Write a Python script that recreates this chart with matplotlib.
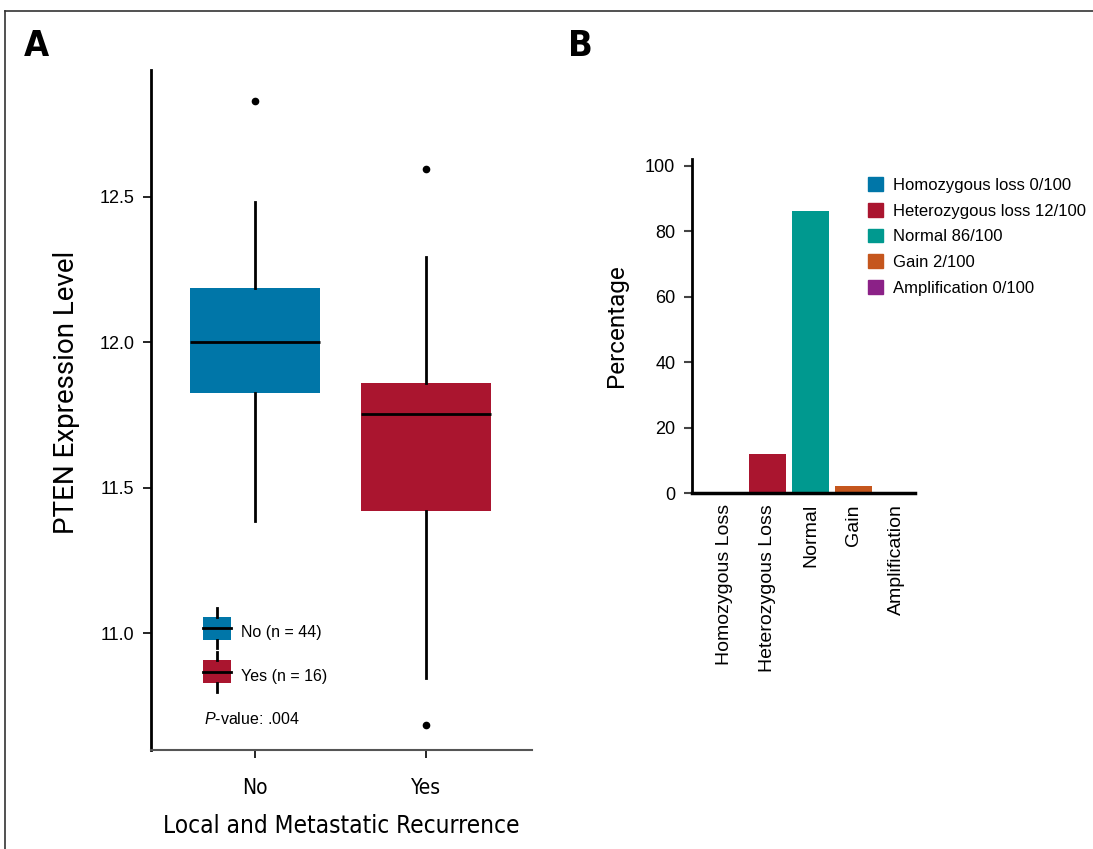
import matplotlib
matplotlib.use("Agg")
import matplotlib.pyplot as plt
from matplotlib.lines import Line2D
from matplotlib.patches import Rectangle
from matplotlib.legend_handler import HandlerBase

plt.rcParams['font.family'] = ['Liberation Sans', 'DejaVu Sans']
plt.rcParams['mathtext.fontset'] = 'custom'
plt.rcParams['mathtext.it'] = 'Liberation Sans:italic'
plt.rcParams['mathtext.rm'] = 'Liberation Sans'

# panel A: box plot summary values
groups = ['No', 'Yes']
group_n = [44, 16]
q1 = [11.825, 11.419]
med = [12.0, 11.753]
q3 = [12.185, 11.859]
whislo = [11.384, 10.845]
whishi = [12.480, 12.292]
fliers = [[12.828], [12.594, 10.683]]
box_colors = ['#0076A8', '#AA152F']
p_value = '.004'

# panel B: copy number status
cn_labels = ['Homozygous Loss', 'Heterozygous Loss', 'Normal', 'Gain', 'Amplification']
cn_legend = ['Homozygous loss', 'Heterozygous loss', 'Normal', 'Gain', 'Amplification']
cn_counts = [0, 12, 86, 2, 0]
cn_total = 100
cn_colors = ['#0076A8', '#AA152F', '#00998F', '#C5561D', '#8B2187']

NARROW = dict(family=['Liberation Sans Narrow', 'DejaVu Sans'], stretch='condensed')


class BoxHandler(HandlerBase):
    def __init__(self, color):
        super().__init__()
        self.color = color

    def create_artists(self, legend, orig, xd, yd, width, height, fontsize, trans):
        bw, bh = width * 0.73, height * 1.6
        cx, cy = xd + width / 2, yd + height / 2
        rect = Rectangle((cx - bw / 2, cy - bh / 2), bw, bh, facecolor=self.color,
                         edgecolor='none', transform=trans)
        m = Line2D([cx - bw / 2, cx + bw / 2], [cy, cy], color='black', lw=2, transform=trans)
        w1 = Line2D([cx, cx], [cy + bh / 2, cy + bh / 2 + height * 0.6], color='black',
                    lw=2, transform=trans)
        w2 = Line2D([cx, cx], [cy - bh / 2, cy - bh / 2 - height * 0.6], color='black',
                    lw=2, transform=trans)
        return [rect, w1, w2, m]


fig = plt.figure(figsize=(10.93, 8.49), dpi=100)

# frame lines at top and left of the figure
fig.add_artist(Line2D([0.005, 1.0], [0.987, 0.987], color='#333333', lw=1.2))
fig.add_artist(Line2D([0.005, 0.005], [0.0, 0.987], color='#333333', lw=1.2))

# ---- panel A
axA = fig.add_axes([0.1382, 0.1166, 0.3485, 0.801])
stats = []
for i in range(len(groups)):
    stats.append({'label': groups[i], 'q1': q1[i], 'med': med[i], 'q3': q3[i],
                  'whislo': whislo[i], 'whishi': whishi[i], 'fliers': fliers[i]})
bp = axA.bxp(stats, positions=[0, 1], widths=0.76, patch_artist=True, showcaps=False,
             boxprops=dict(edgecolor='none'),
             medianprops=dict(color='black', lw=2),
             whiskerprops=dict(color='black', lw=2),
             flierprops=dict(marker='o', markerfacecolor='black', markeredgecolor='black',
                             markersize=4.5))
for patch, c in zip(bp['boxes'], box_colors):
    patch.set_facecolor(c)

axA.set_xlim(-0.608, 1.62)
axA.set_ylim(10.598, 12.935)
axA.set_yticks([11.0, 11.5, 12.0, 12.5])
axA.set_yticklabels(['11.0', '11.5', '12.0', '12.5'])
for s in ['top', 'right']:
    axA.spines[s].set_visible(False)
axA.spines['left'].set_linewidth(2)
axA.spines['bottom'].set_linewidth(1.5)
axA.spines['bottom'].set_color('#555555')
axA.tick_params(axis='y', length=6, width=1.2, labelsize=13, pad=6)
axA.tick_params(axis='x', length=6, width=1.2, labelsize=15, pad=14)
for t in axA.get_xticklabels():
    t.set_family(NARROW['family'])
    t.set_stretch('condensed')
axA.set_ylabel('PTEN Expression Level', fontsize=20, family=['Roboto', 'DejaVu Sans'])
axA.yaxis.set_label_coords(-0.186, 0.526)
axA.set_xlabel('Local and Metastatic Recurrence', fontsize=17.5, labelpad=12, **NARROW)

handles = [Rectangle((0, 0), 1, 1, color=c) for c in box_colors]
labels = ['%s (n = %d)' % (g, n) for g, n in zip(groups, group_n)]
legA = axA.legend(handles, labels, loc='upper left', bbox_to_anchor=(0.107, 0.194),
                  frameon=False, fontsize=11.5, handlelength=2.4, handleheight=1.0,
                  handletextpad=0.3, labelspacing=1.75, borderaxespad=0,
                  handler_map={handles[0]: BoxHandler(box_colors[0]),
                               handles[1]: BoxHandler(box_colors[1])})
axA.text(0.14, 0.045, r'$\it{P}$-value: ' + p_value, transform=axA.transAxes,
         fontsize=11.5, ha='left', va='center')

fig.text(0.022, 0.946, 'A', fontsize=26, fontweight='bold', va='center', **NARROW)
fig.text(0.520, 0.946, 'B', fontsize=26, fontweight='bold', va='center', **NARROW)

# ---- panel B
axB = fig.add_axes([0.6331, 0.4193, 0.204, 0.3934])
pct = [100.0 * c / cn_total for c in cn_counts]
x = list(range(len(cn_labels)))
bars = axB.bar(x, pct, width=0.86, color=cn_colors)
axB.set_xlim(-0.756, 4.43)
axB.set_ylim(0, 102)
axB.set_yticks([0, 20, 40, 60, 80, 100])
axB.set_xticks(x)
axB.set_xticklabels(cn_labels, rotation=90, fontsize=14)
axB.tick_params(axis='x', length=0, pad=8)
axB.tick_params(axis='y', length=6, width=1.5, color='#444444', labelsize=13, pad=6)
for s in ['top', 'right']:
    axB.spines[s].set_visible(False)
axB.spines['left'].set_linewidth(2)
axB.spines['bottom'].set_linewidth(2.5)
axB.set_ylabel('Percentage', fontsize=17.5, family=['Roboto', 'DejaVu Sans'], labelpad=12)

leg_handles = [Rectangle((0, 0), 1, 1, color=c) for c in cn_colors]
leg_labels = ['%s %d/%d' % (l, c, cn_total) for l, c in zip(cn_legend, cn_counts)]
fig.legend(leg_handles, leg_labels, loc='upper left', bbox_to_anchor=(0.788, 0.799),
           frameon=False, fontsize=12, handlelength=0.9, handleheight=0.9,
           handletextpad=0.6, labelspacing=0.6, borderaxespad=0)

fig.savefig('out.png', dpi=100)
